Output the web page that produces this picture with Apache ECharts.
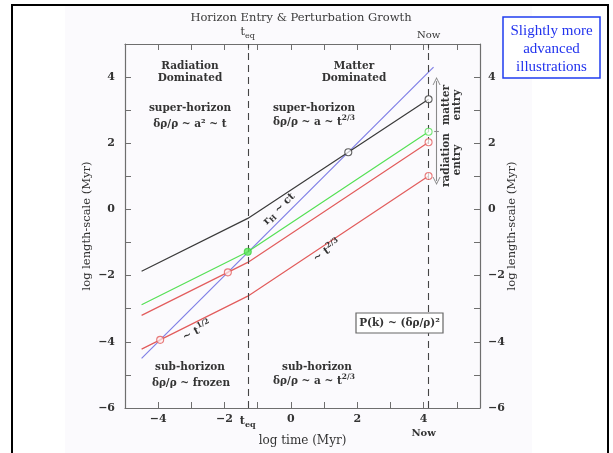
<!DOCTYPE html>
<html>
<head>
<meta charset="utf-8">
<script src="https://cdn.jsdelivr.net/npm/echarts@6/dist/echarts.min.js"></script>
<style>
  html, body { margin: 0; padding: 0; background: #ffffff; }
  #chart { width: 613px; height: 453px; }
</style>
</head>
<body>
<div id="chart"></div>
<script>
// log time (Myr) of matter-radiation equality and of today
const tEq = -1.3;
const tNow = 4.15;

// horizon size, r_H ~ ct
const horizon = [[-4.5, -4.5], [4.3, 4.3]];

// physical size of comoving scales: ~t^(1/2) before t_eq, ~t^(2/3) after
const scaleBlack = [[-4.5, -1.87], [tEq, -0.27], [tNow, 3.33]];
const scaleGreen = [[-4.5, -2.88], [tEq, -1.28], [tNow, 2.35]];
const scaleRedHigh = [[-4.5, -3.2], [tEq, -1.6], [tNow, 2.03]];
const scaleRedLow = [[-4.5, -4.22], [tEq, -2.62], [tNow, 1.01]];

// where each scale crosses the horizon, and its size today
const entryRed = [[-3.94, -3.94], [-1.9, -1.9]];
const entryGreen = [[tEq, -1.28]];
const entryBlack = [[1.73, 1.73]];
const nowBlack = [[tNow, 3.33]];
const nowGreen = [[tNow, 2.35]];
const nowRed = [[tNow, 2.03], [tNow, 1.01]];

// entry-range arrow beside the "Now" line
const arrowX = 4.39;
const arrowTop = 3.88;
const arrowBottom = 0.86;
const arrowMid = 2.37;

// axis ticks and labels
const xTicks = [-5, -4, -3, -2, -1, 0, 1, 2, 3, 4, 5];
const xLabels = [-4, -2, tEq, 0, 2, 4];
const xTopLabels = [tEq, tNow];
const yTicks = [-6, -5, -4, -3, -2, -1, 0, 1, 2, 3, 4, 5];
const yLabels = [-6, -4, -2, 0, 2, 4];

const INK = '#333333';
const FRAME = '#6e6e6e';
const SERIF = '"DejaVu Serif", "Liberation Serif", serif';

const chart = echarts.init(document.getElementById('chart'), null, { renderer: 'canvas' });

function num(v) {
  return v < 0 ? '\u2212' + Math.abs(v) : String(v);
}

const subRich = {
  t: { fontFamily: SERIF, fontSize: 11, color: INK },
  s: { fontFamily: SERIF, fontSize: 8, color: INK, padding: [7, 0, 0, 0] },
  n: { fontFamily: SERIF, fontSize: 10, color: INK, lineHeight: 17 }
};

const tickStyle = { color: FRAME, width: 1 };
const frameLine = { show: true, onZero: false, lineStyle: { color: FRAME, width: 1.2 } };

function xAxisBase(pos) {
  return {
    type: 'value', min: -5, max: 5.7, position: pos,
    axisLine: frameLine,
    splitLine: { show: false },
    axisTick: { show: true, inside: true, length: 6, lineStyle: tickStyle, customValues: xTicks }
  };
}
function yAxisBase(pos) {
  return {
    type: 'value', min: -6, max: 5, position: pos,
    axisLine: frameLine,
    splitLine: { show: false },
    axisTick: { show: true, inside: true, length: 6, lineStyle: tickStyle, customValues: yTicks },
    axisLabel: {
      customValues: yLabels, formatter: num,
      fontFamily: SERIF, fontSize: 11, fontWeight: 'bold', color: INK, margin: 10
    },
    name: 'log length-scale (Myr)', nameLocation: 'middle', nameMoveOverlap: false,
    nameTextStyle: { fontFamily: SERIF, fontSize: 11.5, color: INK }
  };
}

const bottomX = xAxisBase('bottom');
bottomX.axisLabel = {
  customValues: xLabels,
  fontFamily: SERIF, fontSize: 11, fontWeight: 'bold', color: INK, margin: 6,
  rich: subRich,
  formatter: function (v) {
    if (Math.abs(v - tEq) < 1e-6) return '{t|t}{s|eq}';
    if (v === 4) return '4\n{n|Now}';
    return num(v);
  }
};
bottomX.name = 'log time (Myr)';
bottomX.nameLocation = 'middle';
bottomX.nameMoveOverlap = false;
bottomX.nameGap = 27;
bottomX.nameTextStyle = { fontFamily: SERIF, fontSize: 12, color: INK };

const topX = xAxisBase('top');
topX.axisTick.customValues = xTicks.concat([tEq, tNow]);
topX.axisLabel = {
  customValues: xTopLabels,
  fontFamily: SERIF, fontSize: 11, color: INK, margin: 4,
  rich: { t: subRich.t, s: subRich.s, n: { fontFamily: SERIF, fontSize: 10, color: INK } },
  formatter: function (v) {
    return Math.abs(v - tEq) < 1e-6 ? '{t|t}{s|eq}' : '{n|Now}';
  }
};

const leftY = yAxisBase('left');
leftY.nameGap = 32;
const rightY = yAxisBase('right');
rightY.nameGap = 26;
rightY.axisLabel.margin = 8;

function scaleLine(name, data, color) {
  return {
    name: name, type: 'line', data: data, xAxisIndex: 0, yAxisIndex: 0,
    showSymbol: false, symbol: 'none', silent: true, z: 3,
    lineStyle: { color: color, width: 1.2 }
  };
}
function marks(name, data, stroke, fill) {
  return {
    name: name, type: 'scatter', data: data, xAxisIndex: 0, yAxisIndex: 0,
    symbol: 'circle', symbolSize: 7, silent: true, z: 5,
    itemStyle: { color: fill, borderColor: stroke, borderWidth: 1.1 }
  };
}

const chevron = 'path://M5,0 L10,10 L8.8,10 L5,2.4 L1.2,10 L0,10 Z';

const option = {
  backgroundColor: '#ffffff',
  animation: false,
  grid: { left: 125, right: 133, top: 44, bottom: 45, containLabel: false, outerBoundsMode: 'none' },
  xAxis: [bottomX, topX],
  yAxis: [leftY, rightY],
  series: [
    Object.assign(scaleLine('horizon', horizon, '#7f7fe6'), {
      markLine: {
        silent: true, symbol: 'none', animation: false,
        label: { show: false },
        lineStyle: { color: '#444444', width: 1.1, type: [7, 5] },
        data: [{ xAxis: tEq }, { xAxis: tNow }]
      }
    }),
    scaleLine('black', scaleBlack, '#3a3a3a'),
    scaleLine('green', scaleGreen, '#55e055'),
    scaleLine('redHigh', scaleRedHigh, '#e25c5c'),
    Object.assign(scaleLine('redLow', scaleRedLow, '#e25c5c'), {
      markLine: {
        silent: true, animation: false,
        label: { show: false },
        lineStyle: { color: '#8a8a8a', width: 1.1, type: 'solid' },
        data: [
          [{ coord: [arrowX, arrowTop], symbol: chevron, symbolSize: [8, 8] },
           { coord: [arrowX, arrowBottom], symbol: chevron, symbolSize: [8, 8] }],
          [{ coord: [arrowX - 0.07, arrowMid], symbol: 'none' },
           { coord: [arrowX + 0.07, arrowMid], symbol: 'none' }]
        ]
      }
    }),
    marks('entryRed', entryRed, '#e25c5c', 'rgba(255,235,235,0.9)'),
    marks('entryGreen', entryGreen, '#3fcf3f', '#5ee85e'),
    marks('entryBlack', entryBlack, '#3a3a3a', 'rgba(255,255,255,0.9)'),
    marks('nowBlack', nowBlack, '#3a3a3a', 'rgba(255,255,255,0.9)'),
    marks('nowGreen', nowGreen, '#55e055', 'rgba(255,255,255,0.9)'),
    marks('nowRed', nowRed, '#e25c5c', 'rgba(255,255,255,0.9)')
  ],
  graphic: []
};

// text helpers for annotations
function label(text, x, y, extra) {
  return Object.assign({
    type: 'text', x: x, y: y, z: 50, silent: true,
    style: Object.assign({
      text: text, fill: INK, align: 'center', verticalAlign: 'middle',
      font: 'bold 10.5px ' + SERIF
    }, extra && extra.style)
  }, extra && extra.props);
}
const supRich = {
  b: { font: 'bold 10.5px ' + SERIF, fill: INK },
  sup: { font: 'bold 7.5px ' + SERIF, fill: INK, padding: [0, 0, 8, 0] },
  sub: { font: 'bold 7.5px ' + SERIF, fill: INK, padding: [6, 0, 0, 0] }
};

option.graphic = [
  // page backdrop and slide frame
  { type: 'rect', z: -10, silent: true, shape: { x: 65, y: 6, width: 467, height: 447 }, style: { fill: '#fbfafd' } },
  { type: 'polyline', z: 60, silent: true, shape: { points: [[12, 453], [12, 5], [608, 5], [608, 453]] }, style: { stroke: '#000000', lineWidth: 2, fill: null } },

  // title
  label('Horizon Entry & Perturbation Growth', 301, 18, { style: { font: '11.5px ' + SERIF, fill: '#3a3a3a' } }),

  // era headings
  label('Radiation\nDominated', 190, 72, { style: { lineHeight: 12 } }),
  label('Matter\nDominated', 354, 72, { style: { lineHeight: 12 } }),

  label('super-horizon', 190, 108),
  label('δρ/ρ ~ a² ~ t', 190, 124),
  label('super-horizon', 314, 108),
  label('{b|δρ/ρ ~ a ~ t}{sup|2/3}', 314, 122, { style: { text: '{b|δρ/ρ ~ a ~ t}{sup|2/3}', rich: supRich } }),

  label('sub-horizon', 190, 367),
  label('δρ/ρ ~ frozen', 191, 383),
  label('sub-horizon', 317, 367),
  label('{b|δρ/ρ ~ a ~ t}{sup|2/3}', 314, 381, { style: { text: '{b|δρ/ρ ~ a ~ t}{sup|2/3}', rich: supRich } }),

  // slope annotations along the lines
  label('', 279, 209, { style: { text: '{b|r}{sub|H}{b| ~ ct}', rich: supRich }, props: { rotation: Math.PI / 4, originX: 0, originY: 0 } }),
  label('', 327, 251, { style: { text: '{b|~ t}{sup|2/3}', rich: supRich }, props: { rotation: 0.59 } }),
  label('', 197, 331, { style: { text: '{b|~ t}{sup|1/2}', rich: supRich }, props: { rotation: 0.46 } }),

  // entry labels beside the arrow
  label('matter\nentry', 452, 105, { style: { lineHeight: 11 }, props: { rotation: Math.PI / 2 } }),
  label('radiation\nentry', 452, 160, { style: { lineHeight: 11 }, props: { rotation: Math.PI / 2 } }),

  // power spectrum note
  { type: 'rect', z: 40, silent: true, shape: { x: 356, y: 313, width: 87, height: 20 }, style: { fill: '#ffffff', stroke: '#666666', lineWidth: 1.2 } },
  label('P(k) ~ (δρ/ρ)²', 399.5, 323),

  // slide note box
  { type: 'rect', z: 40, silent: true, shape: { x: 503, y: 17, width: 97, height: 61 }, style: { fill: '#ffffff', stroke: '#1f3cf0', lineWidth: 1.5 } },
  label('Slightly more\nadvanced\nillustrations', 551.5, 49, { style: { font: '15px "Liberation Serif", "Times New Roman", serif', fill: '#2233ee', lineHeight: 18 } })
];

chart.setOption(option);
</script>
</body>
</html>
